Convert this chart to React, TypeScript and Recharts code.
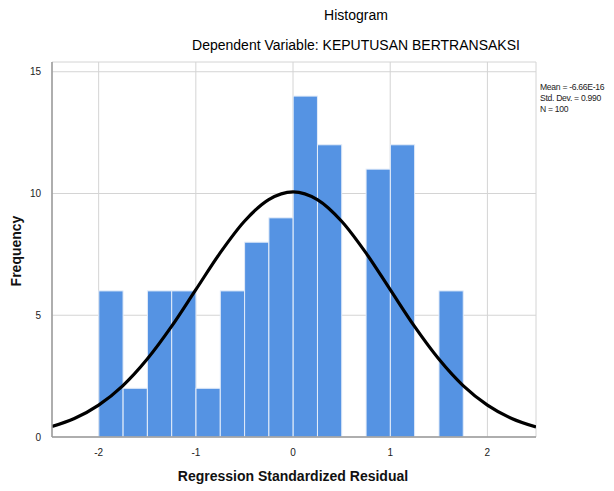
import React from 'react';
import { ComposedChart, Bar, Line, XAxis, YAxis, CartesianGrid } from 'recharts';

// histogram bins (centre of each 0.25-wide bin) and counts
const binCenters = [-1.875, -1.625, -1.375, -1.125, -0.875, -0.625, -0.375, -0.125, 0.125, 0.375, 0.625, 0.875, 1.125, 1.375, 1.625];
const binCounts = [6, 2, 6, 6, 2, 6, 8, 9, 14, 12, 0, 11, 12, 0, 6];

// normal curve
const curveX = [-2.48, -2.25, -2, -1.75, -1.5, -1.25, -1, -0.75, -0.5, -0.25, 0, 0.25, 0.5, 0.75, 1, 1.25, 1.5, 1.75, 2, 2.25, 2.5];
const curveY = [0.43, 0.76, 1.31, 2.11, 3.2, 4.54, 6.05, 7.56, 8.86, 9.75, 10.07, 9.75, 8.86, 7.56, 6.05, 4.54, 3.2, 2.11, 1.31, 0.76, 0.41];

const xTicks = [-2, -1, 0, 1, 2];
const yTicks = [0, 5, 10, 15];
const statLines = ['Mean = -6.66E-16', 'Std. Dev. = 0.990', 'N = 100'];

const font = '"Liberation Sans", Arial, sans-serif';
const BIN_PX = 24.25; // one 0.25 bin on the x scale

// recharts narrows bars on a number axis, so widen them round their centre
const HistBar = (props: any) => {
  const { x, y, width, height } = props;
  if (!height || height <= 0) return null;
  const cx = x + width / 2;
  return (
    <rect
      x={cx - BIN_PX / 2}
      y={y}
      width={BIN_PX}
      height={height}
      fill="#5593E3"
      stroke="#e3ecf9"
      strokeWidth={1}
    />
  );
};

const App: React.FC = () => {
  const bins = binCenters.map((x, i) => ({ x, count: binCounts[i] }));
  const curve = curveX.map((x, i) => ({ x, y: curveY[i] }));

  return (
    <div style={{ position: 'absolute', left: 0, top: 0, width: 614, height: 491, fontFamily: font, background: '#fff', overflow: 'hidden' }}>
      <ComposedChart
        width={614}
        height={491}
        data={bins}
        margin={{ top: 62, right: 78, bottom: 34, left: 12 }}
      >
        <CartesianGrid stroke="#d4d4d4" strokeWidth={1} />
        <XAxis
          type="number"
          dataKey="x"
          domain={[-2.48, 2.5]}
          ticks={xTicks}
          allowDataOverflow
          height={20}
          tickLine={false}
          axisLine={{ stroke: '#9a9a9a', strokeWidth: 1.5 }}
          tick={{ fill: '#222', fontSize: 10, fontFamily: font }}
          tickMargin={6}
        />
        <YAxis
          type="number"
          domain={[0, 15.4]}
          ticks={yTicks}
          allowDataOverflow
          width={40}
          tickLine={false}
          axisLine={{ stroke: '#9a9a9a', strokeWidth: 1.5 }}
          tick={{ fill: '#222', fontSize: 10, fontFamily: font }}
          tickMargin={5}
        />
        <Bar dataKey="count" shape={HistBar} isAnimationActive={false} />
        <Line
          data={curve}
          dataKey="y"
          type="monotone"
          stroke="#000"
          strokeWidth={3.2}
          dot={false}
          activeDot={false}
          isAnimationActive={false}
        />
      </ComposedChart>

      <div style={{ position: 'absolute', left: 256, width: 200, top: 7, textAlign: 'center', fontSize: 14, color: '#000' }}>Histogram</div>
      <div style={{ position: 'absolute', left: 156, width: 400, top: 37, textAlign: 'center', fontSize: 14, color: '#000' }}>
        Dependent Variable: KEPUTUSAN BERTRANSAKSI
      </div>
      <div
        style={{
          position: 'absolute',
          left: 540,
          top: 82,
          fontSize: 8.6,
          letterSpacing: -0.3,
          lineHeight: '11px',
          color: '#222',
          whiteSpace: 'nowrap',
        }}
      >
        {statLines.map((s) => (
          <div key={s}>{s}</div>
        ))}
      </div>
      <div style={{ position: 'absolute', left: 93, width: 400, top: 468, textAlign: 'center', fontSize: 14, fontWeight: 'bold', color: '#111' }}>
        Regression Standardized Residual
      </div>
      <div
        style={{
          position: 'absolute',
          left: 18 - 60,
          top: 251 - 10,
          width: 120,
          height: 20,
          textAlign: 'center',
          fontSize: 14,
          fontWeight: 'bold',
          color: '#111',
          transform: 'rotate(-90deg)',
        }}
      >
        Frequency
      </div>
    </div>
  );
};

export default App;
